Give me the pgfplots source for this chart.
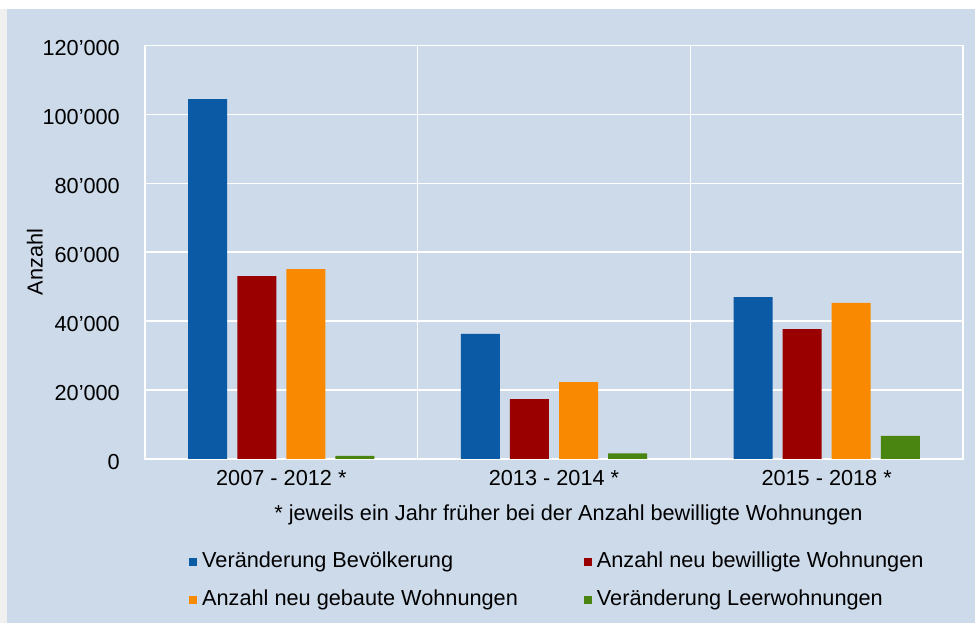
\documentclass[border=0pt]{standalone}
\usepackage{pgfplots}
\pgfplotsset{compat=1.18}
\usepackage{fontspec}
\setmainfont{Liberation Sans}
\definecolor{bg}{HTML}{CDDAEA}
\definecolor{cblue}{HTML}{0B5AA6}
\definecolor{cred}{HTML}{9B0000}
\definecolor{corange}{HTML}{F98900}
\definecolor{cgreen}{HTML}{4B8511}
\begin{document}
\begin{tikzpicture}[font=\fontsize{21.7}{26}\selectfont]
\fill[white] (0,0) rectangle (975pt,623pt);
\fill[gray!12] (0,0) rectangle (7pt,614pt);
\fill[bg] (7pt,0) rectangle (975pt,614pt);
\begin{axis}[
  at={(145pt,164pt)}, anchor=south west,
  scale only axis, width=818pt, height=413.5pt,
  xmin=-0.5, xmax=2.5, ymin=0, ymax=120000,
  ybar, bar width=0.143,
  axis line style={white, line width=1.6pt},
  major tick length=0pt,
  ytick={0,20000,40000,60000,80000,100000,120000},
  yticklabels={0,20'000,40'000,60'000,80'000,100'000,120'000},
  scaled y ticks=false,
  yticklabel style={inner xsep=0pt, xshift=-25pt, yshift=-3pt},
  ymajorgrids, grid style={white, line width=1.6pt},
  xtick={0,1,2},
  xticklabels={2007 - 2012 *, 2013 - 2014 *, 2015 - 2018 *},
  xticklabel style={yshift=-8pt},
  extra x ticks={0.5,1.5}, extra x tick labels={},
  extra x tick style={xmajorgrids, grid style={white, line width=1.6pt}},
  ylabel={Anzahl},
  ylabel style={at={(axis description cs:-0.1345,0.476)}, anchor=center},
  legend columns=2,
  legend cell align=left,
  legend image code/.code={\fill[#1] (0pt,-4pt) rectangle (8pt,4pt); \path (11pt,0pt);},
  legend style={at={(axis description cs:0.0538,-0.2223)}, anchor=north west,
    draw=none, fill=none, inner sep=0pt, row sep=16pt,
    nodes={text height=14pt, text depth=4pt, inner sep=2pt},
    /tikz/every even column/.append style={column sep=64pt}},
  every axis plot/.append style={draw=none},
]
\addplot[fill=cblue, bar shift=-0.27] coordinates {(0,104400) (1,36300) (2,47000)};
\addplot[fill=cred, bar shift=-0.09] coordinates {(0,53100) (1,17400) (2,37700)};
\addplot[fill=corange, bar shift=0.09] coordinates {(0,55100) (1,22300) (2,45300)};
\addplot[fill=cgreen, bar shift=0.27] coordinates {(0,900) (1,1600) (2,6700)};
\legend{Veränderung Bevölkerung, Anzahl neu bewilligte Wohnungen, Anzahl neu gebaute Wohnungen, Veränderung Leerwohnungen}
\end{axis}
\node at (568.5pt,108pt) {* jeweils ein Jahr früher bei der Anzahl bewilligte Wohnungen};
\end{tikzpicture}
\end{document}
